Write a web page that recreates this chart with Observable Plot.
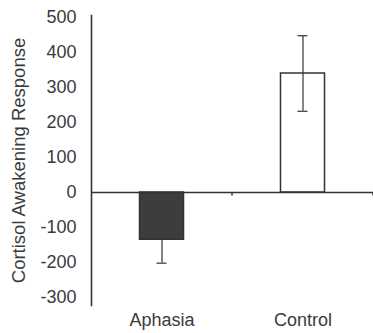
<!DOCTYPE html>
<html>
<head>
<meta charset="utf-8">
<script src="https://cdn.jsdelivr.net/npm/d3@7"></script>
<script src="https://cdn.jsdelivr.net/npm/@observablehq/plot@0.6"></script>
<style>
  html, body { margin: 0; padding: 0; background: #fff; }
  #chart svg { display: block; }
</style>
</head>
<body>
<div id="chart"></div>
<script>
const groups = ["Aphasia", "Control"];
const means = [-135, 340];
const errors = [67, 108];
const fills = ["#3d3d3d", "none"];
const yTicks = [-300, -200, -100, 0, 100, 200, 300, 400, 500];
const yTitle = "Cortisol Awakening Response";

const data = groups.map((g, i) => ({group: g, mean: means[i], err: errors[i], fill: fills[i]}));

const W = 373, H = 333, ML = 91, MR = 0;
const band = (W - ML - MR) / groups.length;

const chart = Plot.plot({
  width: W,
  height: H,
  marginLeft: ML,
  marginRight: MR,
  marginTop: 15,
  marginBottom: 28,
  style: {fontFamily: "Liberation Sans, Arial, sans-serif", fontSize: "18px", color: "#3a3a3a", background: "#fff"},
  x: {domain: groups, padding: 0, axis: null},
  y: {domain: [-300, 500], insetTop: 2, insetBottom: 8, ticks: yTicks, axis: null},
  marks: [
    Plot.frame({anchor: "left", stroke: "#333", strokeWidth: 1.6}),
    Plot.axisY({ticks: yTicks, tickFormat: d => String(d), tickSize: 0, tickPadding: 15, label: null, fontSize: 18, fill: "#3a3a3a"}),
    Plot.axisX({tickSize: 0, tickPadding: 8, label: null, fontSize: 18, fill: "#3a3a3a"}),
    Plot.text([yTitle], {frameAnchor: "left", textAnchor: "middle", rotate: -90, dx: -72, fontSize: 18.5, fill: "#3a3a3a"}),
    // error bars (drawn beneath bars)
    Plot.ruleX(data, {x: "group", y1: d => d.mean - d.err, y2: d => d.mean + d.err, stroke: "#444", strokeWidth: 1.3}),
    Plot.tickY(data, {x: "group", y: d => d.mean + d.err, insetLeft: band / 2 - 5, insetRight: band / 2 - 5, stroke: "#444", strokeWidth: 1.3}),
    Plot.tickY(data, {x: "group", y: d => d.mean - d.err, insetLeft: band / 2 - 5, insetRight: band / 2 - 5, stroke: "#444", strokeWidth: 1.3}),
    Plot.barY(data, {x: "group", y: "mean", fill: "fill", stroke: "#333", strokeWidth: 1.5, insetLeft: 48.5, insetRight: 48.5}),
    Plot.ruleY([0], {stroke: "#333", strokeWidth: 1.6}),
    // category separator ticks
    Plot.ruleX(groups, {x: d => d, dx: band / 2 - 0.5, y1: 0, y2: -10, stroke: "#333", strokeWidth: 1.5})
  ]
});
document.getElementById("chart").append(chart);
</script>
</body>
</html>
